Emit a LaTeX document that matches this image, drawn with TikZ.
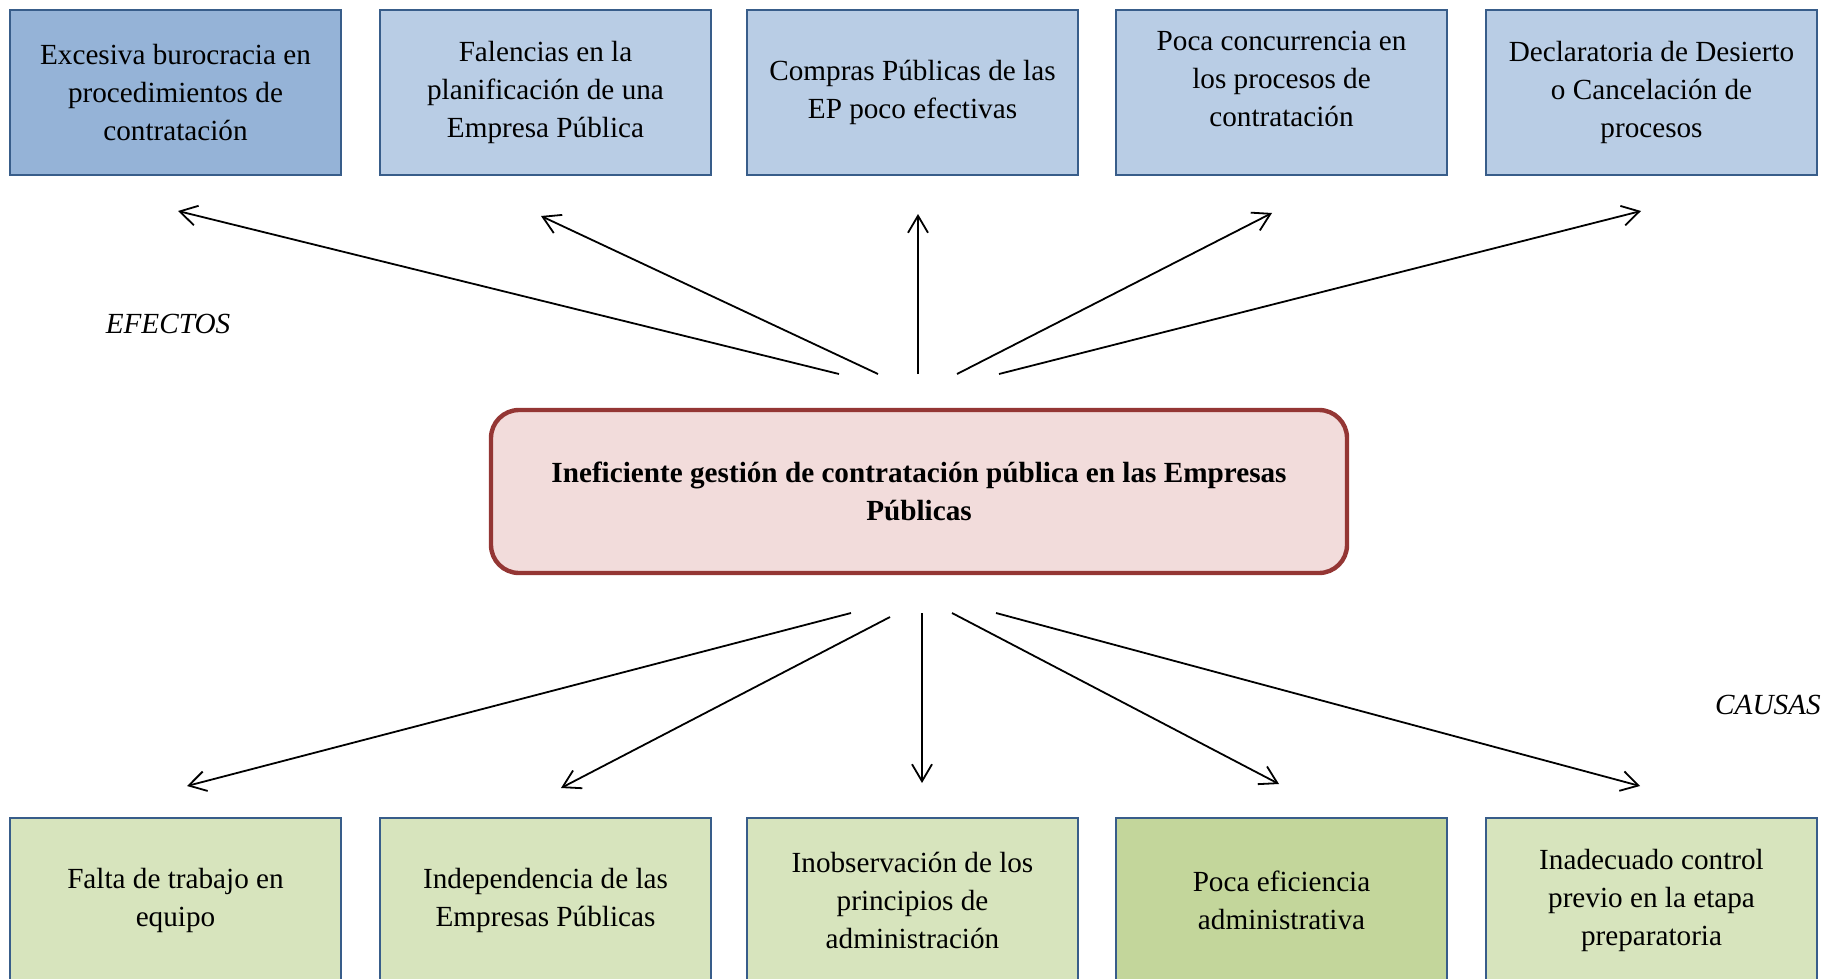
\documentclass[tikz,border=0pt]{standalone}
\usepackage{fontspec}
\setmainfont{Liberation Serif}
\usetikzlibrary{arrows.meta}
\definecolor{bordblue}{HTML}{385D8A}
\definecolor{effdark}{HTML}{95B3D7}
\definecolor{efflight}{HTML}{B9CDE5}
\definecolor{caulight}{HTML}{D7E4BD}
\definecolor{caudark}{HTML}{C3D69B}
\definecolor{probred}{HTML}{943634}
\definecolor{probfill}{HTML}{F2DCDB}
\tikzset{
  txt/.style={font=\fontsize{14.6}{19.2}\selectfont, align=center, inner sep=0pt},
  ebox/.style={draw=bordblue, line width=1pt, minimum width=165.5pt, minimum height=82.5pt, inner sep=0pt, txt},
  probbox/.style={draw=probred, fill=probfill, line width=2.2pt, rounded corners=14pt, minimum width=428pt, minimum height=81.5pt, inner sep=0pt, txt, font=\fontsize{14.6}{19}\selectfont\bfseries},
  lbl/.style={font=\fontsize{14.6}{19.2}\selectfont\itshape, inner sep=0pt},
  arr/.style={line width=0.9pt, -{Straight Barb[length=8.5pt,width=10pt,line width=0.9pt]}}
}
\begin{document}
\begin{tikzpicture}[x=0.5pt,y=-0.5pt]
\useasboundingbox (0,0) rectangle (1825,979);
\clip (0,0) rectangle (1825,979);
% effects
\node[ebox, fill=effdark] (e1) at (175.5,92.5) {Excesiva burocracia en\\procedimientos de\\contratación};
\node[ebox, fill=efflight] (e2) at (545.5,92.5) {Falencias en la\\planificación de una\\Empresa Pública};
\node[ebox, fill=efflight] (e3) at (912.5,92.5) {Compras Públicas de las\\EP poco efectivas};
\node[ebox, fill=efflight] (e4) at (1281.5,92.5) {};
\node[txt] (e4t) at (1281.5,79) {Poca concurrencia en\\los procesos de\\contratación};
\node[ebox, fill=efflight] (e5) at (1651.5,92.5) {Declaratoria de Desierto\\o Cancelación de\\procesos};
% causes
\node[ebox, fill=caulight] (c1) at (175.5,900.5) {Falta de trabajo en\\equipo};
\node[ebox, fill=caulight] (c2) at (545.5,900.5) {Independencia de las\\Empresas Públicas};
\node[ebox, fill=caulight] (c3) at (912.5,900.5) {Inobservación de los\\principios de\\administración};
\node[ebox, fill=caudark] (c4) at (1281.5,900.5) {Poca eficiencia\\administrativa};
\node[ebox, fill=caulight] (c5) at (1651.5,900.5) {Inadecuado control\\previo en la etapa\\preparatoria};
% problem
\node[probbox] (p) at (919,491.5) {Ineficiente gestión de contratación pública en las Empresas\\Públicas};
% labels
\node[lbl] (efectos) at (168,324) {EFECTOS};
\node[lbl, anchor=east] (causas) at (1821,705) {CAUSAS};
% arrow coordinates (top)
\coordinate (ts1) at (839,374); \coordinate (te1) at (178,211);
\coordinate (ts2) at (878,374); \coordinate (te2) at (541,216);
\coordinate (ts3) at (918,374); \coordinate (te3) at (918,214);
\coordinate (ts4) at (957,374); \coordinate (te4) at (1272,213);
\coordinate (ts5) at (999,374); \coordinate (te5) at (1641,211);
% arrow coordinates (bottom)
\coordinate (bs1) at (851,613); \coordinate (be1) at (187,786);
\coordinate (bs2) at (890,617); \coordinate (be2) at (561,788);
\coordinate (bs3) at (922,613); \coordinate (be3) at (922,783);
\coordinate (bs4) at (952,613); \coordinate (be4) at (1279,784);
\coordinate (bs5) at (996,613); \coordinate (be5) at (1640,786);
\foreach \i in {1,...,5}{
  \draw[arr] (ts\i) -- (te\i);
  \draw[arr] (bs\i) -- (be\i);
}
\end{tikzpicture}
\end{document}
